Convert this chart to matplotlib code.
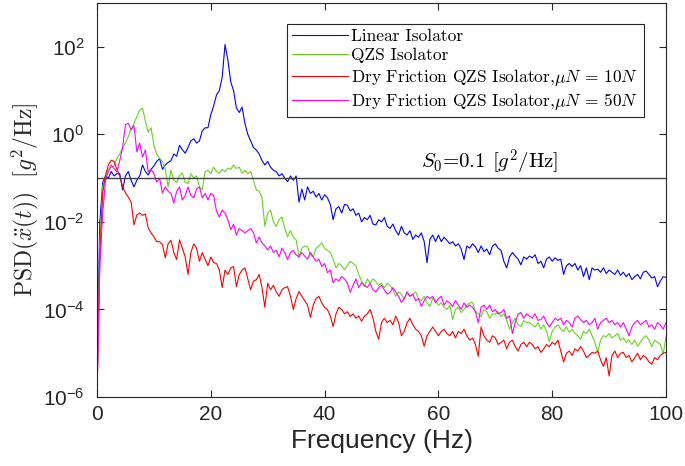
import numpy as np
import matplotlib
matplotlib.use("Agg")
import matplotlib.pyplot as plt
from matplotlib.ticker import LogFormatterMathtext, NullLocator

# frequency grid (Hz), 0.5 Hz steps
freq = np.arange(0, 100.5, 0.5)

# PSD values, as log10(PSD)
linear_log10 = [
    -5.4, -2.0, -1.1, -0.95, -1.0, -0.85, -0.95, -0.9, -0.9, -1.27,
    -0.95, -0.85, -1.05, -1.2, -1.05, -0.95, -0.7, -0.85, -0.93, -0.8,
    -0.72, -0.62, -0.55, -0.8, -0.7, -0.64, -0.6, -0.45, -0.5, -0.25,
    -0.35, -0.43, -0.3, -0.15, -0.1, -0.2, -0.15, 0.08, 0.15, 0.15,
    0.45, 0.65, 0.9, 1.0, 1.3, 2.05, 1.7, 1.2, 1.0, 0.6,
    0.5, 0.62, 0.25, 0.0, -0.15, -0.3, -0.36, -0.45, -0.6, -0.7,
    -0.62, -0.75, -0.82, -0.85, -0.95, -0.9, -1.0, -1.08, -0.95, -1.05,
    -0.95, -1.55, -1.25, -1.5, -1.2, -1.35, -1.3, -1.43, -1.35, -1.5,
    -1.38, -1.45, -1.6, -1.95, -1.7, -1.65, -1.8, -1.6, -1.62, -1.75,
    -1.7, -1.85, -1.8, -2.0, -1.9, -1.95, -1.85, -2.05, -2.07, -1.95,
    -2.0, -1.9, -2.1, -2.15, -2.05, -2.2, -2.3, -2.1, -2.25, -2.3,
    -2.2, -2.4, -2.3, -2.35, -2.25, -2.45, -2.93, -2.4, -2.3, -2.45,
    -2.3, -2.45, -2.35, -2.42, -2.5, -2.45, -2.55, -2.5, -2.62, -2.86,
    -2.55, -2.6, -2.5, -2.57, -2.7, -2.55, -2.68, -2.62, -2.75, -2.55,
    -2.5, -2.6, -2.65, -2.9, -3.05, -2.8, -2.7, -2.78, -2.85, -2.98,
    -2.8, -2.85, -2.78, -2.82, -2.75, -2.95, -2.9, -3.05, -2.85, -2.8,
    -2.9, -2.82, -2.88, -2.85, -3.2, -3.0, -2.95, -3.02, -2.95, -3.1,
    -3.0, -3.25, -3.05, -3.32, -3.05, -3.1, -3.08, -3.15, -3.05, -3.18,
    -3.1, -3.15, -3.2, -3.1, -3.22, -3.15, -3.25, -3.18, -3.32, -3.25,
    -3.2, -3.3, -3.15, -3.12, -3.2, -3.28, -3.25, -3.48, -3.35, -3.25,
    -3.27,
]

qzs_log10 = [
    -6.0, -2.5, -1.2, -0.95, -0.8, -0.75, -0.72, -0.55, -0.45, -0.3,
    -0.2, -0.05, 0.12, 0.25, 0.4, 0.55, 0.6, 0.3, 0.05, 0.15,
    -0.25, -0.45, -0.55, -0.62, -0.8, -1.2, -0.82, -1.05, -1.1, -0.95,
    -0.88, -1.1, -1.12, -0.9, -1.0, -0.95, -1.2, -1.27, -0.85, -0.82,
    -0.9, -0.75, -0.85, -0.89, -0.8, -0.85, -0.77, -0.8, -0.7, -0.78,
    -0.75, -0.89, -0.82, -0.9, -0.85, -1.05, -1.27, -1.3, -1.45, -2.1,
    -1.8, -1.73, -2.0, -2.1, -1.95, -1.89, -2.15, -2.34, -2.2, -2.35,
    -2.41, -2.8, -2.6, -2.55, -2.57, -2.75, -2.8, -2.6, -2.55, -2.48,
    -2.6, -2.65, -2.7, -2.85, -3.05, -2.95, -3.0, -3.09, -3.0, -2.9,
    -2.95, -3.0, -3.2, -3.35, -3.48, -3.3, -3.4, -3.3, -3.36, -3.45,
    -3.4, -3.5, -3.4, -3.45, -3.55, -3.7, -3.6, -3.65, -3.77, -3.6,
    -3.7, -3.65, -3.6, -3.75, -3.8, -3.7, -3.85, -3.93, -3.75, -3.8,
    -3.9, -3.85, -3.95, -4.0, -3.9, -4.23, -4.0, -3.95, -4.07, -4.0,
    -3.9, -3.85, -3.84, -4.05, -4.1, -4.16, -4.0, -4.05, -4.2, -4.1,
    -4.11, -4.05, -4.16, -4.1, -4.25, -4.45, -4.3, -4.2, -4.35, -4.39,
    -4.25, -4.3, -4.3, -4.35, -4.4, -4.3, -4.45, -4.35, -4.5, -4.73,
    -4.5, -4.4, -4.35, -4.45, -4.5, -4.4, -4.52, -4.45, -4.55, -4.6,
    -4.68, -4.5, -4.55, -4.45, -4.6, -4.75, -4.98, -4.7, -4.6, -4.62,
    -4.55, -4.65, -4.6, -4.55, -4.7, -4.65, -4.75, -4.7, -4.8, -4.7,
    -4.84, -4.75, -4.65, -4.6, -4.7, -4.85, -4.7, -4.75, -4.8, -5.02,
    -4.61,
]

friction10_log10 = [
    -6.0, -2.8, -1.34, -0.93, -0.7, -0.59, -0.62, -0.8, -0.95, -1.2,
    -1.34, -1.43, -1.55, -2.07, -1.84, -1.8, -1.85, -1.82, -2.14, -2.25,
    -2.34, -2.45, -2.45, -2.52, -2.82, -2.5, -2.42, -2.7, -2.86, -2.41,
    -2.6, -2.8, -3.2, -2.7, -2.5, -2.6, -2.9, -2.7, -2.85, -3.0,
    -2.8, -2.93, -2.95, -3.1, -3.5, -3.1, -3.2, -3.05, -3.02, -3.48,
    -3.2, -3.1, -3.05, -3.3, -3.55, -3.35, -3.32, -3.2, -3.5, -3.95,
    -3.4, -3.55, -3.45, -3.6, -3.7, -3.55, -3.5, -3.48, -3.7, -4.0,
    -3.75, -3.59, -3.7, -3.8, -3.9, -4.18, -3.9, -3.75, -3.7, -3.85,
    -3.95, -4.0, -4.15, -4.39, -4.1, -3.95, -4.0, -4.1, -4.05, -4.16,
    -4.1, -4.2, -4.15, -4.27, -4.15, -4.1, -4.0, -4.2, -4.5, -4.68,
    -4.3, -4.2, -4.3, -4.25, -4.35, -4.15, -4.3, -4.6, -4.5, -4.3,
    -4.2, -4.35, -4.45, -4.5, -4.6, -4.84, -4.6, -4.5, -4.4, -4.5,
    -4.6, -4.5, -4.45, -4.55, -4.6, -4.5, -4.65, -4.5, -4.55, -4.45,
    -4.6, -4.7, -4.65, -4.8, -5.07, -4.4, -4.6, -4.7, -4.75, -4.6,
    -4.65, -4.8, -4.75, -4.7, -4.9, -4.75, -4.7, -4.85, -4.95, -4.8,
    -4.75, -4.85, -4.75, -4.8, -4.9, -4.85, -4.98, -4.9, -4.8, -4.85,
    -4.75, -4.8, -4.7, -4.95, -5.2, -5.0, -4.95, -5.05, -4.9, -4.95,
    -4.85, -4.95, -5.1, -5.05, -4.98, -5.0, -4.95, -5.15, -5.3, -5.1,
    -5.52, -5.05, -4.95, -5.1, -5.0, -4.98, -5.1, -5.05, -5.2, -5.1,
    -5.0, -5.15, -5.05, -5.1, -5.2, -5.25, -5.1, -5.15, -5.05, -5.0,
    -4.98,
]

friction50_log10 = [
    -6.0, -3.0, -1.8, -1.05, -0.85, -0.7, -0.78, -0.86, -0.6, -0.3,
    0.22, 0.25, 0.1, 0.2, -0.4, -0.2, -0.52, -0.36, -0.86, -0.8,
    -0.9, -1.09, -1.0, -1.34, -1.2, -1.3, -1.35, -1.57, -1.3, -1.2,
    -1.5, -1.4, -1.2, -1.4, -1.45, -1.25, -1.2, -1.45, -1.35, -1.5,
    -1.35, -1.4, -1.75, -1.89, -1.73, -1.8, -1.95, -2.18, -2.05, -2.3,
    -2.15, -2.2, -2.25, -2.2, -2.15, -2.25, -2.48, -2.35, -2.48, -2.55,
    -2.64, -2.55, -2.7, -2.65, -2.8, -2.6, -2.7, -2.86, -2.7, -2.65,
    -2.75, -2.8, -2.7, -2.78, -2.85, -2.7, -2.8, -2.9, -2.85, -3.02,
    -2.95, -3.16, -3.1, -3.39, -3.3, -3.35, -3.25, -3.3, -3.4, -3.61,
    -3.45, -3.3, -3.5, -3.39, -3.45, -3.5, -3.4, -3.55, -3.6, -3.5,
    -3.45, -3.55, -3.65, -3.61, -3.5, -3.6, -3.7, -3.84, -3.75, -3.6,
    -3.7, -3.65, -3.8, -3.75, -3.93, -3.8, -3.7, -3.75, -3.7, -3.85,
    -3.75, -3.7, -3.9, -3.8, -3.85, -3.93, -3.8, -3.9, -4.0, -3.85,
    -3.95, -3.9, -3.95, -4.05, -4.3, -3.95, -3.9, -4.0, -3.9, -4.05,
    -4.0, -4.1, -4.07, -4.0, -4.2, -4.15, -4.55, -4.3, -4.1, -4.07,
    -4.2, -4.1, -4.15, -4.2, -4.1, -4.25, -4.23, -4.15, -4.3, -4.4,
    -4.3, -4.2, -4.25, -4.2, -4.35, -4.25, -4.3, -4.4, -4.2, -4.15,
    -4.23, -4.3, -4.25, -4.35, -4.3, -4.2, -4.45, -4.3, -4.25, -4.2,
    -4.3, -4.25, -4.35, -4.3, -4.4, -4.3, -4.45, -4.6, -4.4, -4.3,
    -4.25, -4.35, -4.3, -4.25, -4.4, -4.35, -4.45, -4.3, -4.35, -4.45,
    -4.3,
]

labels = [
    "Linear Isolator",
    "QZS Isolator",
    r"Dry Friction QZS Isolator,$\mu N$ = 10$N$",
    r"Dry Friction QZS Isolator,$\mu N$ = 50$N$",
]
colors = ["#0000ff", "#66d41c", "#ff0000", "#ff00ff"]

s0 = 0.1
x_ticks = [0, 20, 40, 60, 80, 100]
y_ticks = [1e-6, 1e-4, 1e-2, 1e0, 1e2]

plt.rcParams["mathtext.fontset"] = "cm"
plt.rcParams["font.family"] = ["Liberation Sans", "DejaVu Sans"]

fig = plt.figure(figsize=(6.85, 4.66), dpi=100)
ax = fig.add_axes([0.1416, 0.148, 0.8307, 0.8456])

series = [linear_log10, qzs_log10, friction10_log10, friction50_log10]
for vals, lab, col in zip(series, labels, colors):
    ax.plot(freq, 10.0 ** np.array(vals), color=col, lw=0.8, label=lab)

ax.axhline(s0, color="#404040", lw=1.0)
ax.text(81, s0 * 1.08, r"$S_0$=0.1 [$g^2$/Hz]", ha="right", va="bottom",
        family="cmr10", fontsize=15)

ax.set_yscale("log")
ax.set_xlim(0, 100)
ax.set_ylim(1e-6, 1e3)
ax.set_xticks(x_ticks)
ax.set_yticks(y_ticks)
ax.yaxis.set_major_formatter(LogFormatterMathtext(base=10.0))
ax.yaxis.set_minor_locator(NullLocator())

ax.tick_params(direction="in", which="both", top=True, right=True,
               labelsize=15, length=5, width=0.8, colors="#262626")
ax.tick_params(axis="y", pad=9)
ax.tick_params(axis="x", pad=6)
for sp in ax.spines.values():
    sp.set_color("#262626")
    sp.set_linewidth(0.8)

ax.set_xlabel("Frequency (Hz)", fontsize=19, color="#262626", labelpad=3)
ax.set_ylabel(r"$\mathrm{PSD}(\ddot{x}(t))\ \ [g^2/\mathrm{Hz}]$",
              fontsize=17, color="#262626", labelpad=1)

leg = ax.legend(loc="upper left", bbox_to_anchor=(0.334, 0.947),
                prop={"family": "cmr10", "size": 12.5}, frameon=True,
                fancybox=False, edgecolor="#262626", framealpha=1,
                handlelength=3.2, borderpad=0.3, labelspacing=0.2,
                handletextpad=0.2, borderaxespad=0)
leg.get_frame().set_linewidth(0.8)

fig.savefig("out.png", dpi=100)
